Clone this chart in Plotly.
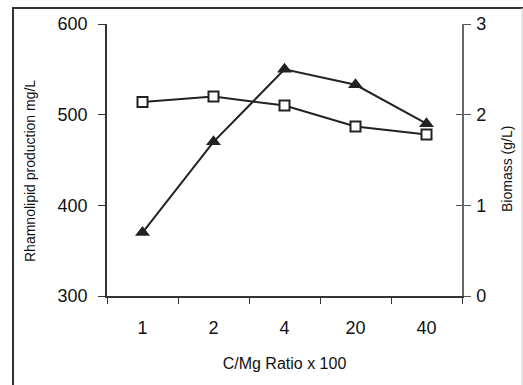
import plotly.graph_objects as go

categories = ["1", "2", "4", "20", "40"]
rhamnolipid = [370, 470, 550, 533, 490]      # mg/L, left axis (triangles)
biomass = [2.14, 2.20, 2.10, 1.87, 1.78]      # g/L, right axis (squares)
left_ticks = [300, 400, 500, 600]
right_ticks = [0, 1, 2, 3]

W, H = 523, 385
L, R, T, B = 107, 61, 24, 89
pw, ph = W - L - R, H - T - B

def px(x):
    return (x - L) / pw

def py(y):
    return (H - B - y) / ph

FONT = "Liberation Sans, Arial, sans-serif"
INK = "#222222"

fig = go.Figure()
fig.add_trace(go.Scatter(
    x=categories, y=rhamnolipid, mode="lines+markers",
    line=dict(color=INK, width=2),
    marker=dict(symbol="triangle-up", size=13, color=INK, line=dict(width=0)),
    yaxis="y", showlegend=False, cliponaxis=False))
fig.add_trace(go.Scatter(
    x=categories, y=biomass, mode="lines+markers",
    line=dict(color=INK, width=2),
    marker=dict(symbol="square", size=10, color="white", line=dict(color=INK, width=2)),
    yaxis="y2", showlegend=False, cliponaxis=False))

fig.update_layout(
    width=W, height=H,
    margin=dict(l=L, r=R, t=T, b=B),
    paper_bgcolor="white", plot_bgcolor="white",
    font=dict(family=FONT, color="#111111"),
    xaxis=dict(
        type="category", categoryarray=categories, range=[-0.5, 4.5],
        showline=True, linecolor="#333333", linewidth=1.5,
        ticks="outside", ticklen=6, tickcolor="#333333", tickwidth=1,
        tickson="boundaries", showgrid=False, zeroline=False,
        tickfont=dict(size=18, family=FONT), ticklabelstandoff=15,
        title=dict(text="C/Mg Ratio x 100", font=dict(size=16, family=FONT), standoff=20),
    ),
    yaxis=dict(
        range=[300, 600], tickvals=left_ticks,
        showline=True, linecolor="#333333", linewidth=1.5,
        ticks="outside", ticklen=7, tickcolor="#333333", tickwidth=1,
        showgrid=False, zeroline=False,
        tickfont=dict(size=18, family=FONT), ticklabelstandoff=7,
    ),
    yaxis2=dict(
        range=[0, 3], tickvals=right_ticks, overlaying="y", side="right",
        showline=True, linecolor="#666666", linewidth=1.5,
        ticks="outside", ticklen=7, tickcolor="#555555", tickwidth=1,
        showgrid=False, zeroline=False,
        tickfont=dict(size=18, family=FONT), ticklabelstandoff=2,
    ),
    yaxis3=dict(
        range=[0, 3], tickvals=right_ticks, overlaying="y", side="right",
        showline=False, ticks="inside", ticklen=6, tickcolor="#555555", tickwidth=1,
        showticklabels=False, showgrid=False, zeroline=False,
    ),
    annotations=[
        dict(text="Rhamnolipid production mg/L", xref="paper", yref="paper",
             x=px(30), y=py(171), textangle=-90, showarrow=False,
             xanchor="center", yanchor="middle",
             font=dict(size=14, family=FONT, color="#111111")),
        dict(text="Biomass (g/L)", xref="paper", yref="paper",
             x=px(507), y=py(169), textangle=-90, showarrow=False,
             xanchor="center", yanchor="middle",
             font=dict(size=14, family=FONT, color="#111111")),
    ],
    shapes=[
        dict(type="line", xref="paper", yref="paper",
             x0=px(13), x1=px(13), y0=py(8), y1=py(400),
             line=dict(color="#333333", width=2)),
        dict(type="line", xref="paper", yref="paper",
             x0=px(12), x1=px(530), y0=py(8), y1=py(8),
             line=dict(color="#333333", width=2)),
        dict(type="line", xref="paper", yref="paper",
             x0=px(522), x1=px(522), y0=py(8), y1=py(400),
             line=dict(color="#cccccc", width=1)),
    ],
)
# invisible trace to activate yaxis3 ticks
fig.add_trace(go.Scatter(x=[categories[0]], y=[None], yaxis="y3", showlegend=False, hoverinfo="skip"))

fig.write_html("out.html")
